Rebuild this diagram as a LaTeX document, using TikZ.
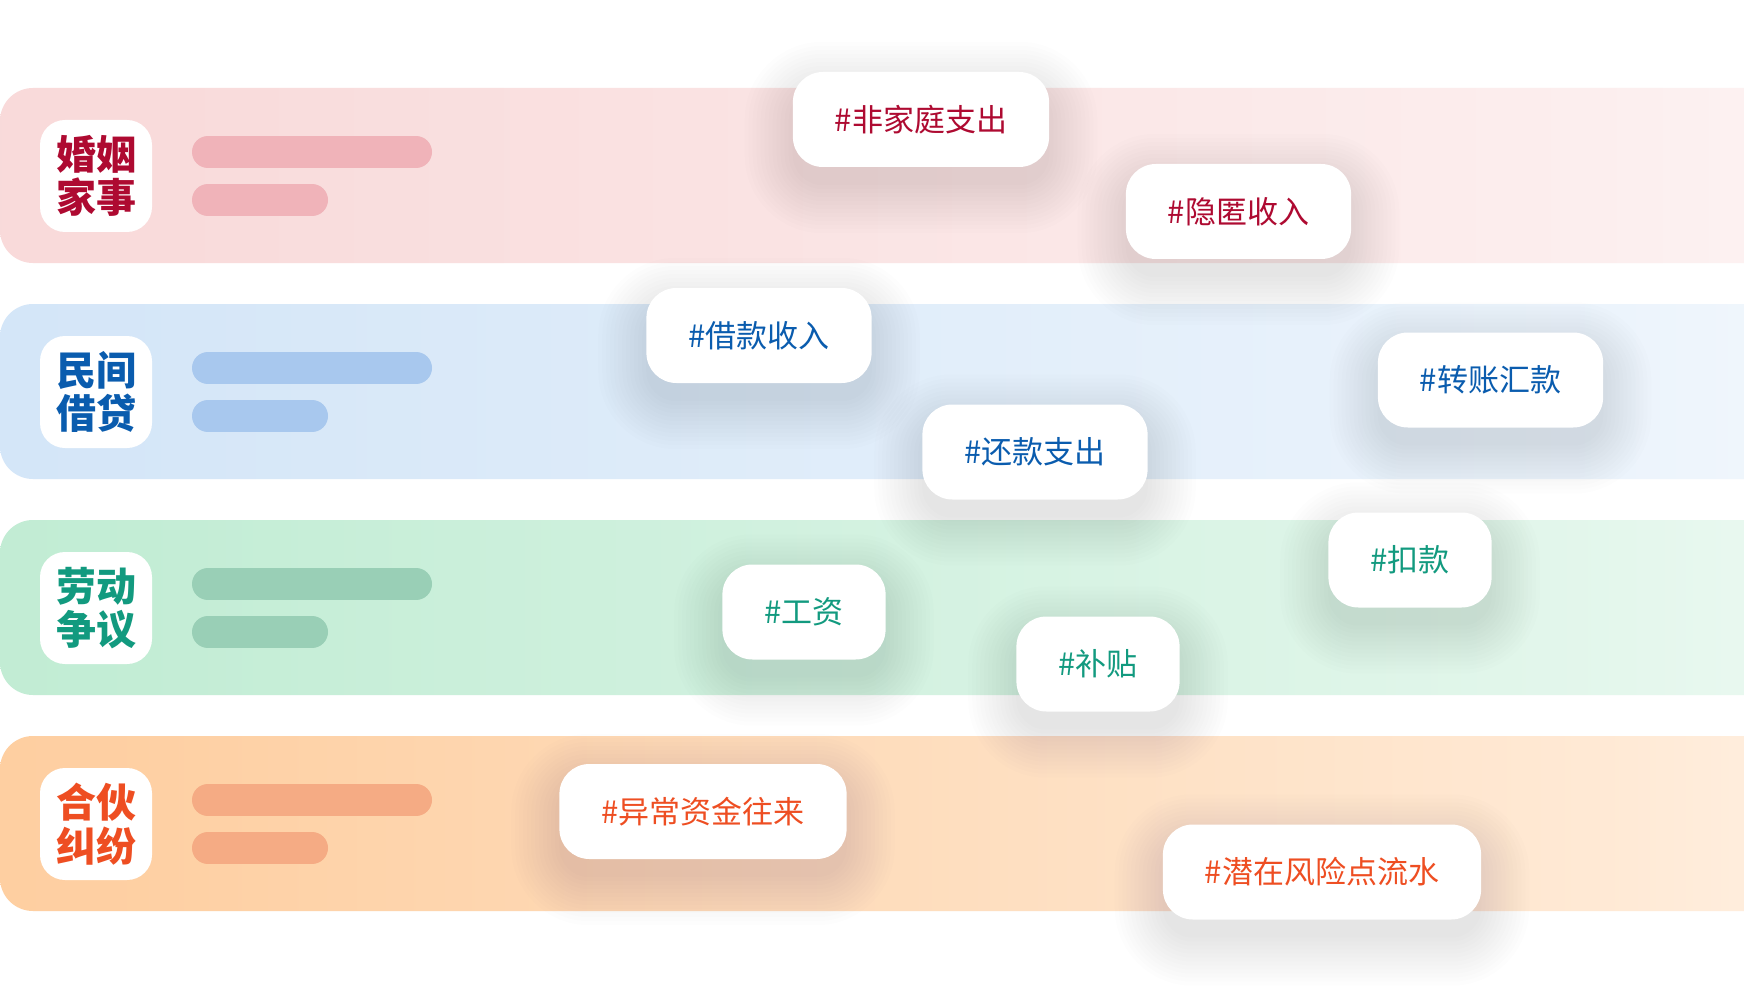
\documentclass[tikz,border=0pt]{standalone}
\usepackage{fontspec}
\newfontfamily\cjk{Noto Sans CJK SC}
\pgfdeclarelayer{bg}\pgfdeclarelayer{shad}\pgfsetlayers{bg,shad,main}
\definecolor{bandA}{HTML}{F8D7D7}\definecolor{barA}{HTML}{F0B3B9}\definecolor{txtA}{HTML}{AE0A31}
\definecolor{bandB}{HTML}{D1E4F7}\definecolor{barB}{HTML}{A8C8EE}\definecolor{txtB}{HTML}{0A5CAE}
\definecolor{bandC}{HTML}{BDEBD1}\definecolor{barC}{HTML}{99CFB6}\definecolor{txtC}{HTML}{129A7F}
\definecolor{bandD}{HTML}{FECB9A}\definecolor{barD}{HTML}{F5AB84}\definecolor{txtD}{HTML}{EE4E22}
\definecolor{shadowc}{HTML}{3A3F4A}
\def\mkshade#1{%
  \colorlet{#1a}{#1!92!white}\colorlet{#1b}{#1!42!white}\colorlet{#1c}{#1!15!white}%
  \pgfdeclarehorizontalshading{sh#1}{100bp}{color(0bp)=(#1); color(28bp)=(#1a); color(70bp)=(#1b); color(84bp)=(#1c); color(95.5bp)=(white); color(100bp)=(white)}}
\mkshade{bandA}\mkshade{bandB}\mkshade{bandC}\mkshade{bandD}
\tikzset{
  bandbox/.style={shading=sh#1, rounded corners=33},
  barline/.style={line width=32pt, line cap=round, draw=#1},
  iconbox/.style={fill=white, rounded corners=25, minimum width=112, minimum height=112, inner sep=0pt, align=center, font=\cjk\bfseries\fontsize{40}{43.5}\selectfont},
  tagbox/.style={fill=white, rounded corners=30, minimum height=95, inner xsep=42, inner ysep=0pt, font=\cjk\fontsize{31}{31}\selectfont},
  shadowlayer/.style={fill=shadowc, opacity=0.009},
}
\begin{document}
\begin{tikzpicture}[x=1pt,y=-1pt]
\useasboundingbox (0,0) rectangle (1744,1000);
\begin{pgfonlayer}{bg}
\fill[white] (0,0) rectangle (1744,1000);
% bands
\foreach \b/\t in {A/88,B/304,C/520,D/736}{
  \path[bandbox=band\b] (0,\t) rectangle (1780,\t+175);
  \draw[barline=bar\b] (208,\t+64) -- (416,\t+64);
  \draw[barline=bar\b] (208,\t+112) -- (312,\t+112);
}
% icons
\node[iconbox, text=txtA] (iconA) at (96,176) {婚姻\\家事};
\node[iconbox, text=txtB] (iconB) at (96,392) {民间\\借贷};
\node[iconbox, text=txtC] (iconC) at (96,608) {劳动\\争议};
\node[iconbox, text=txtD] (iconD) at (96,824) {合伙\\纠纷};
\end{pgfonlayer}
% tags
\node[tagbox, text=txtA] (t1) at (921,119.5) {\#非家庭支出};
\node[tagbox, text=txtA] (t2) at (1238.5,211.5) {\#隐匿收入};
\node[tagbox, text=txtB] (t3) at (759,335.5) {\#借款收入};
\node[tagbox, text=txtB] (t5) at (1490.5,380) {\#转账汇款};
\node[tagbox, text=txtB] (t4) at (1035,452) {\#还款支出};
\node[tagbox, text=txtC] (t8) at (1410,560) {\#扣款};
\node[tagbox, text=txtC] (t6) at (804,612) {\#工资};
\node[tagbox, text=txtC] (t7) at (1098,664) {\#补贴};
\node[tagbox, text=txtD] (t9) at (703,811.5) {\#异常资金往来};
\node[tagbox, text=txtD] (t10) at (1322,872) {\#潜在风险点流水};
% soft shadows
\begin{pgfonlayer}{shad}
\foreach \n in {t1,t2,t3,t4,t5,t6,t7,t8,t9,t10}{
  \foreach \e in {0,4,...,48}{
    \fill[shadowlayer, rounded corners=30+\e]
      ([xshift=-\e pt, yshift=-18pt-\e pt]\n.south west) rectangle
      ([xshift=\e pt, yshift=-18pt+\e pt]\n.north east);
  }
}
\end{pgfonlayer}
\end{tikzpicture}
\end{document}
